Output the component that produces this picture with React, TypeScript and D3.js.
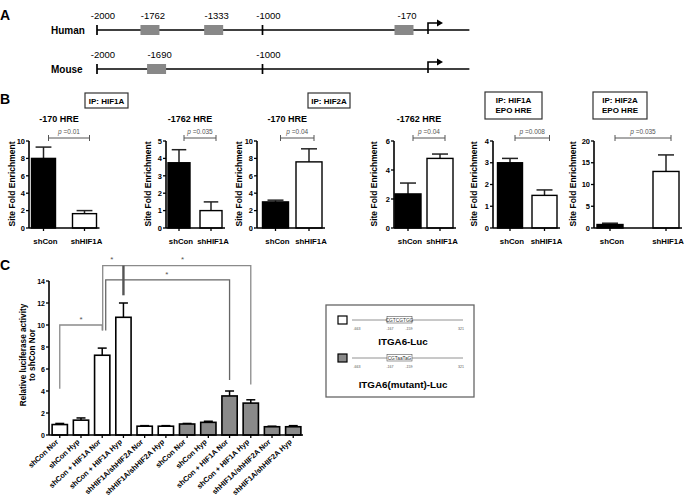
import React from "react";
import * as d3 from "d3";

const FONT = "Arial, 'Liberation Sans', Helvetica, sans-serif";

// ---------- Panel A data ----------
const humanTicks = [-2000, -1000];
const humanHRE = [
  { label: "-1762", pos: -1680 },
  { label: "-1333", pos: -1295 },
  { label: "-170", pos: -145 },
];
const mouseTicks = [-2000, -1000];
const mouseHRE = [{ label: "-1690", pos: -1640 }];

// ---------- Panel B data ----------
const groupsB = ["shCon", "shHIF1A"];
const bTitles = ["-170 HRE", "-1762 HRE", "-170 HRE", "-1762 HRE", "", ""];
const bMeans = [
  [8.0, 1.65],
  [3.75, 1.0],
  [3.0, 7.6],
  [2.35, 4.8],
  [3.0, 1.5],
  [0.8, 13.0],
];
const bErrTop = [
  [9.3, 2.0],
  [4.5, 1.5],
  [3.2, 9.1],
  [3.1, 5.1],
  [3.2, 1.75],
  [1.1, 16.8],
];
const bYMax = [10, 5, 10, 6, 4, 20];
const bTicks = [
  [0, 2, 4, 6, 8, 10],
  [0, 1, 2, 3, 4, 5],
  [0, 2, 4, 6, 8, 10],
  [0, 2, 4, 6],
  [0, 1, 2, 3, 4],
  [0, 5, 10, 15, 20],
];
const bPvals = ["0.01", "0.035", "0.04", "0.04", "0.008", "0.035"];

// ---------- Panel C data ----------
const cCats = [
  "shCon Nor",
  "shCon Hyp",
  "shCon + HIF1A Nor",
  "shCon + HIF1A Hyp",
  "shHIF1A/shHIF2A Nor",
  "shHIF1A/shHIF2A Hyp",
  "shCon Nor ",
  "shCon Hyp ",
  "shCon + HIF1A Nor ",
  "shCon + HIF1A Hyp ",
  "shHIF1A/shHIF2A Nor ",
  "shHIF1A/shHIF2A Hyp ",
];
const cMeans = [0.95, 1.35, 7.25, 10.7, 0.8, 0.8, 1.0, 1.15, 3.55, 2.9, 0.75, 0.75];
const cErrTop = [1.05, 1.55, 7.9, 12.0, 0.85, 0.85, 1.05, 1.25, 4.0, 3.2, 0.8, 0.85];
const cConstruct = ["wt", "wt", "wt", "wt", "wt", "wt", "mut", "mut", "mut", "mut", "mut", "mut"];
const cTicks = [0, 2, 4, 6, 8, 10, 12, 14];

// ---------- layout (positions only) ----------
const bLayout = [
  { axisX: 29, c0: 43.5, c1: 84.5, bw: 24, labX: 15 },
  { axisX: 166, c0: 179, c1: 211, bw: 22, labX: 151 },
  { axisX: 257, c0: 275.5, c1: 309, bw: 26, labX: 242 },
  { axisX: 394, c0: 408, c1: 440, bw: 26, labX: 377 },
  { axisX: 493, c0: 510, c1: 544.5, bw: 25, labX: 477 },
  { axisX: 594, c0: 610, c1: 666, bw: 26, labX: 576 },
];

function BChart({ i }: { i: number }) {
  const L = bLayout[i];
  const step = L.c1 - L.c0;
  const pi = (step - L.bw) / step;
  const start = L.c0 - L.bw / 2;
  const x = d3
    .scaleBand<string>()
    .domain(groupsB)
    .range([start, start + step * (2 - pi)])
    .paddingInner(pi)
    .paddingOuter(0);
  const y = d3.scaleLinear().domain([0, bYMax[i]]).range([228, 141]);
  const xEnd = start + step * (2 - pi) + 3;
  const bw = x.bandwidth();
  const cx = (g: string) => (x(g) as number) + bw / 2;
  const cap = Math.min(8, bw * 0.33);
  const brY = 138;
  return (
    <g>
      {bTitles[i] && (
        <text x={(L.c0 + L.c1) / 2 - 5} y={121.5} fontSize={9} fontWeight="bold" textAnchor="middle">
          {bTitles[i]}
        </text>
      )}
      <text
        transform={`translate(${L.labX},184) rotate(-90)`}
        fontSize={8.5}
        fontWeight="bold"
        textAnchor="middle"
      >
        Site Fold Enrichment
      </text>
      {groupsB.map((g, j) => (
        <g key={g}>
          <line x1={cx(g)} x2={cx(g)} y1={y(bMeans[i][j])} y2={y(bErrTop[i][j])} stroke="#222" strokeWidth={1.5} />
          <line x1={cx(g) - cap} x2={cx(g) + cap} y1={y(bErrTop[i][j])} y2={y(bErrTop[i][j])} stroke="#222" strokeWidth={1.5} />
          <rect
            x={x(g)}
            y={y(bMeans[i][j])}
            width={bw}
            height={y(0) - y(bMeans[i][j])}
            fill={j === 0 ? "#000" : "#fff"}
            stroke="#000"
            strokeWidth={1.4}
          />
          <line x1={cx(g)} x2={cx(g)} y1={y(0)} y2={y(0) + 3} stroke="#000" strokeWidth={1.3} />
          <text x={cx(g) + 2} y={244} fontSize={7.8} fontWeight="bold" textAnchor="middle">
            {g}
          </text>
        </g>
      ))}
      <line x1={L.axisX} x2={L.axisX} y1={y(0)} y2={y(bYMax[i])} stroke="#000" strokeWidth={1.6} />
      <line x1={L.axisX} x2={xEnd} y1={y(0)} y2={y(0)} stroke="#000" strokeWidth={1.6} />
      {bTicks[i].map((t) => (
        <g key={t}>
          <line x1={L.axisX - 3} x2={L.axisX} y1={y(t)} y2={y(t)} stroke="#000" strokeWidth={1.3} />
          <text x={L.axisX - 4} y={y(t) + 2.7} fontSize={7.5} fontWeight="bold" textAnchor="end">
            {t}
          </text>
        </g>
      ))}
      {/* p bracket */}
      <g stroke="#555" strokeWidth={1}>
        <line x1={cx(groupsB[0]) + 5} x2={cx(groupsB[1]) + 5} y1={brY} y2={brY} />
        <line x1={cx(groupsB[0]) + 5} x2={cx(groupsB[0]) + 5} y1={brY - 3} y2={brY + 3} />
        <line x1={cx(groupsB[1]) + 5} x2={cx(groupsB[1]) + 5} y1={brY - 3} y2={brY + 3} />
      </g>
      <text x={(cx(groupsB[0]) + cx(groupsB[1])) / 2 + 5} y={134} fontSize={6.5} fill="#555" textAnchor="middle">
        <tspan fontStyle="italic">p</tspan> ={bPvals[i]}
      </text>
    </g>
  );
}

function PanelA() {
  const xA = d3.scaleLinear().domain([-2000, 0]).range([97, 428]);
  const rows = [
    { name: "Human", y: 30, ticks: humanTicks, hre: humanHRE, labY: 19 },
    { name: "Mouse", y: 69, ticks: mouseTicks, hre: mouseHRE, labY: 58 },
  ];
  return (
    <g>
      <text x={0} y={20} fontSize={14} fontWeight="bold">A</text>
      {rows.map((r) => (
        <g key={r.name}>
          <text x={51} y={r.y + 3.5} fontSize={10} fontWeight="bold">{r.name}</text>
          <line x1={xA(-2000)} x2={xA(250)} y1={r.y} y2={r.y} stroke="#000" strokeWidth={1.7} />
          {r.ticks.map((t) => (
            <g key={t}>
              <line x1={xA(t)} x2={xA(t)} y1={r.y - 5} y2={r.y + 5} stroke="#000" strokeWidth={1.7} />
              <text x={xA(t) + 6} y={r.labY} fontSize={9.5} textAnchor="middle">{t}</text>
            </g>
          ))}
          {r.hre.map((h) => (
            <g key={h.label}>
              <rect x={xA(h.pos) - 9.5} y={r.y - 5} width={19} height={10} fill="#888" />
              <text x={xA(h.pos) + 3} y={r.labY} fontSize={9.5} textAnchor="middle">{h.label}</text>
            </g>
          ))}
          {/* TSS arrow */}
          <path
            d={`M${xA(0)},${r.y + 4} V${r.y - 7} H${xA(0) + 11}`}
            fill="none"
            stroke="#000"
            strokeWidth={1.6}
          />
          <path
            d={`M${xA(0) + 15},${r.y - 7} L${xA(0) + 9},${r.y - 10.5} L${xA(0) + 9},${r.y - 3.5} Z`}
            fill="#000"
          />
        </g>
      ))}
    </g>
  );
}

function PanelB() {
  const boxes = [
    { x: 85, y: 93, w: 43, h: 15, lines: ["IP: HIF1A"] },
    { x: 308, y: 93, w: 42, h: 15, lines: ["IP: HIF2A"] },
    { x: 485, y: 92, w: 57, h: 27, lines: ["IP: HIF1A", "EPO HRE"] },
    { x: 593, y: 92, w: 54, h: 27, lines: ["IP: HIF2A", "EPO HRE"] },
  ];
  return (
    <g>
      <text x={0} y={104} fontSize={14} fontWeight="bold">B</text>
      {boxes.map((b, k) => (
        <g key={k}>
          <rect x={b.x} y={b.y} width={b.w} height={b.h} fill="#fff" stroke="#333" strokeWidth={1.2} />
          {b.lines.map((l, j) => (
            <text
              key={j}
              x={b.x + b.w / 2}
              y={b.lines.length === 1 ? b.y + 11 : b.y + 11 + j * 10}
              fontSize={8}
              fontWeight="bold"
              textAnchor="middle"
            >
              {l}
            </text>
          ))}
        </g>
      ))}
      {bLayout.map((_, i) => (
        <BChart key={i} i={i} />
      ))}
    </g>
  );
}

function PanelC() {
  const x = d3.scaleBand<string>().domain(cCats).range([50, 303]).paddingInner(0.28).paddingOuter(0.1);
  const y = d3.scaleLinear().domain([0, 14]).range([435, 281]);
  const bw = x.bandwidth();
  const cx = (i: number) => (x(cCats[i]) as number) + bw / 2;
  const gray = "#8a8a8a";
  return (
    <g>
      <text x={0} y={270} fontSize={14} fontWeight="bold">C</text>
      <text transform="translate(26,355) rotate(-90)" fontSize={8.2} fontWeight="bold" textAnchor="middle">
        Relative luciferase activity
      </text>
      <text transform="translate(35,355) rotate(-90)" fontSize={8.2} fontWeight="bold" textAnchor="middle">
        to shCon Nor
      </text>
      {/* significance brackets */}
      <g fill="none" stroke={gray} strokeWidth={1.3}>
        <path d={`M${cx(0)},${y(4.2)} V${y(10)} H${cx(2)} V${y(9.5)}`} />
        <path d={`M${cx(2) + 0.5},${y(9.5)} V${y(15.4)} H${cx(9)} V${y(4.6)}`} />
        <path d={`M${cx(2) + 3.5},${y(9.5)} V${y(14.1)} H${cx(8)} V${y(5.0)}`} stroke="#666" />
      </g>
      <line x1={cx(3)} x2={cx(3)} y1={y(15.4)} y2={y(12.7)} stroke="#555" strokeWidth={2.4} />
      <g fontSize={8} fill="#555" textAnchor="middle">
        <text x={(cx(0) + cx(2)) / 2} y={y(10) - 3}>*</text>
        <text x={(cx(2) + cx(3)) / 2 - 1} y={y(15.4) - 4}>*</text>
        <text x={(cx(2) + cx(9)) / 2 + 6} y={y(15.4) - 4}>*</text>
        <text x={(cx(2) + cx(8)) / 2 + 1} y={y(14.1) - 3}>*</text>
      </g>
      {cCats.map((c, i) => (
        <g key={c}>
          <line x1={cx(i)} x2={cx(i)} y1={y(cMeans[i])} y2={y(cErrTop[i])} stroke="#000" strokeWidth={1.5} />
          <line x1={cx(i) - 4.5} x2={cx(i) + 4.5} y1={y(cErrTop[i])} y2={y(cErrTop[i])} stroke="#000" strokeWidth={1.5} />
          <rect
            x={x(c)}
            y={y(cMeans[i])}
            width={bw}
            height={y(0) - y(cMeans[i])}
            fill={cConstruct[i] === "wt" ? "#fff" : gray}
            stroke="#000"
            strokeWidth={1.6}
          />
          <line x1={cx(i)} x2={cx(i)} y1={y(0)} y2={y(0) + 3} stroke="#000" strokeWidth={1.3} />
          <text
            transform={`translate(${cx(i) - 1},${y(0) + 7.5}) rotate(-43)`}
            fontSize={7.4}
            fontWeight="bold"
            textAnchor="end"
          >
            {c.trim()}
          </text>
        </g>
      ))}
      <line x1={49} x2={49} y1={y(0)} y2={y(14)} stroke="#000" strokeWidth={1.6} />
      <line x1={49} x2={303} y1={y(0)} y2={y(0)} stroke="#000" strokeWidth={1.6} />
      {cTicks.map((t) => (
        <g key={t}>
          <line x1={46} x2={49} y1={y(t)} y2={y(t)} stroke="#000" strokeWidth={1.3} />
          <text x={45} y={y(t) + 2.5} fontSize={7} fontWeight="bold" textAnchor="end">{t}</text>
        </g>
      ))}
      {/* legend */}
      <rect x={326} y={305} width={148} height={92} fill="#fff" stroke="#666" strokeWidth={1.3} />
      {[
        { y: 320, fill: "#fff", seq: "CGTCGTGG", name: "ITGA6-Luc", nameY: 345 },
        { y: 358, fill: gray, seq: "CGTaaTaG", name: "ITGA6(mutant)-Luc", nameY: 388 },
      ].map((l) => (
        <g key={l.name}>
          <rect x={338} y={l.y - 4} width={9} height={8} fill={l.fill} stroke="#000" strokeWidth={1.2} />
          <line x1={352} x2={463} y1={l.y} y2={l.y} stroke="#777" strokeWidth={0.8} />
          <rect x={387} y={l.y - 3.5} width={25} height={6.5} fill="#fff" stroke="#555" strokeWidth={0.6} />
          <text x={399.5} y={l.y + 2} fontSize={4.8} textAnchor="middle" fill="#333">{l.seq}</text>
          <g fontSize={3.6} fill="#555" textAnchor="middle">
            <text x={357} y={l.y + 10}>-663</text>
            <text x={390} y={l.y + 10}>-167</text>
            <text x={409} y={l.y + 10}>-159</text>
            <text x={461} y={l.y + 10}>321</text>
          </g>
          <text x={403} y={l.nameY} fontSize={9.8} fontWeight="bold" textAnchor="middle">{l.name}</text>
        </g>
      ))}
    </g>
  );
}

export default function App() {
  return (
    <svg
      width={685}
      height={500}
      style={{ position: "absolute", left: 0, top: 0, background: "#fff" }}
      fontFamily={FONT}
    >
      <rect width={685} height={500} fill="#fff" />
      <PanelA />
      <PanelB />
      <PanelC />
    </svg>
  );
}
